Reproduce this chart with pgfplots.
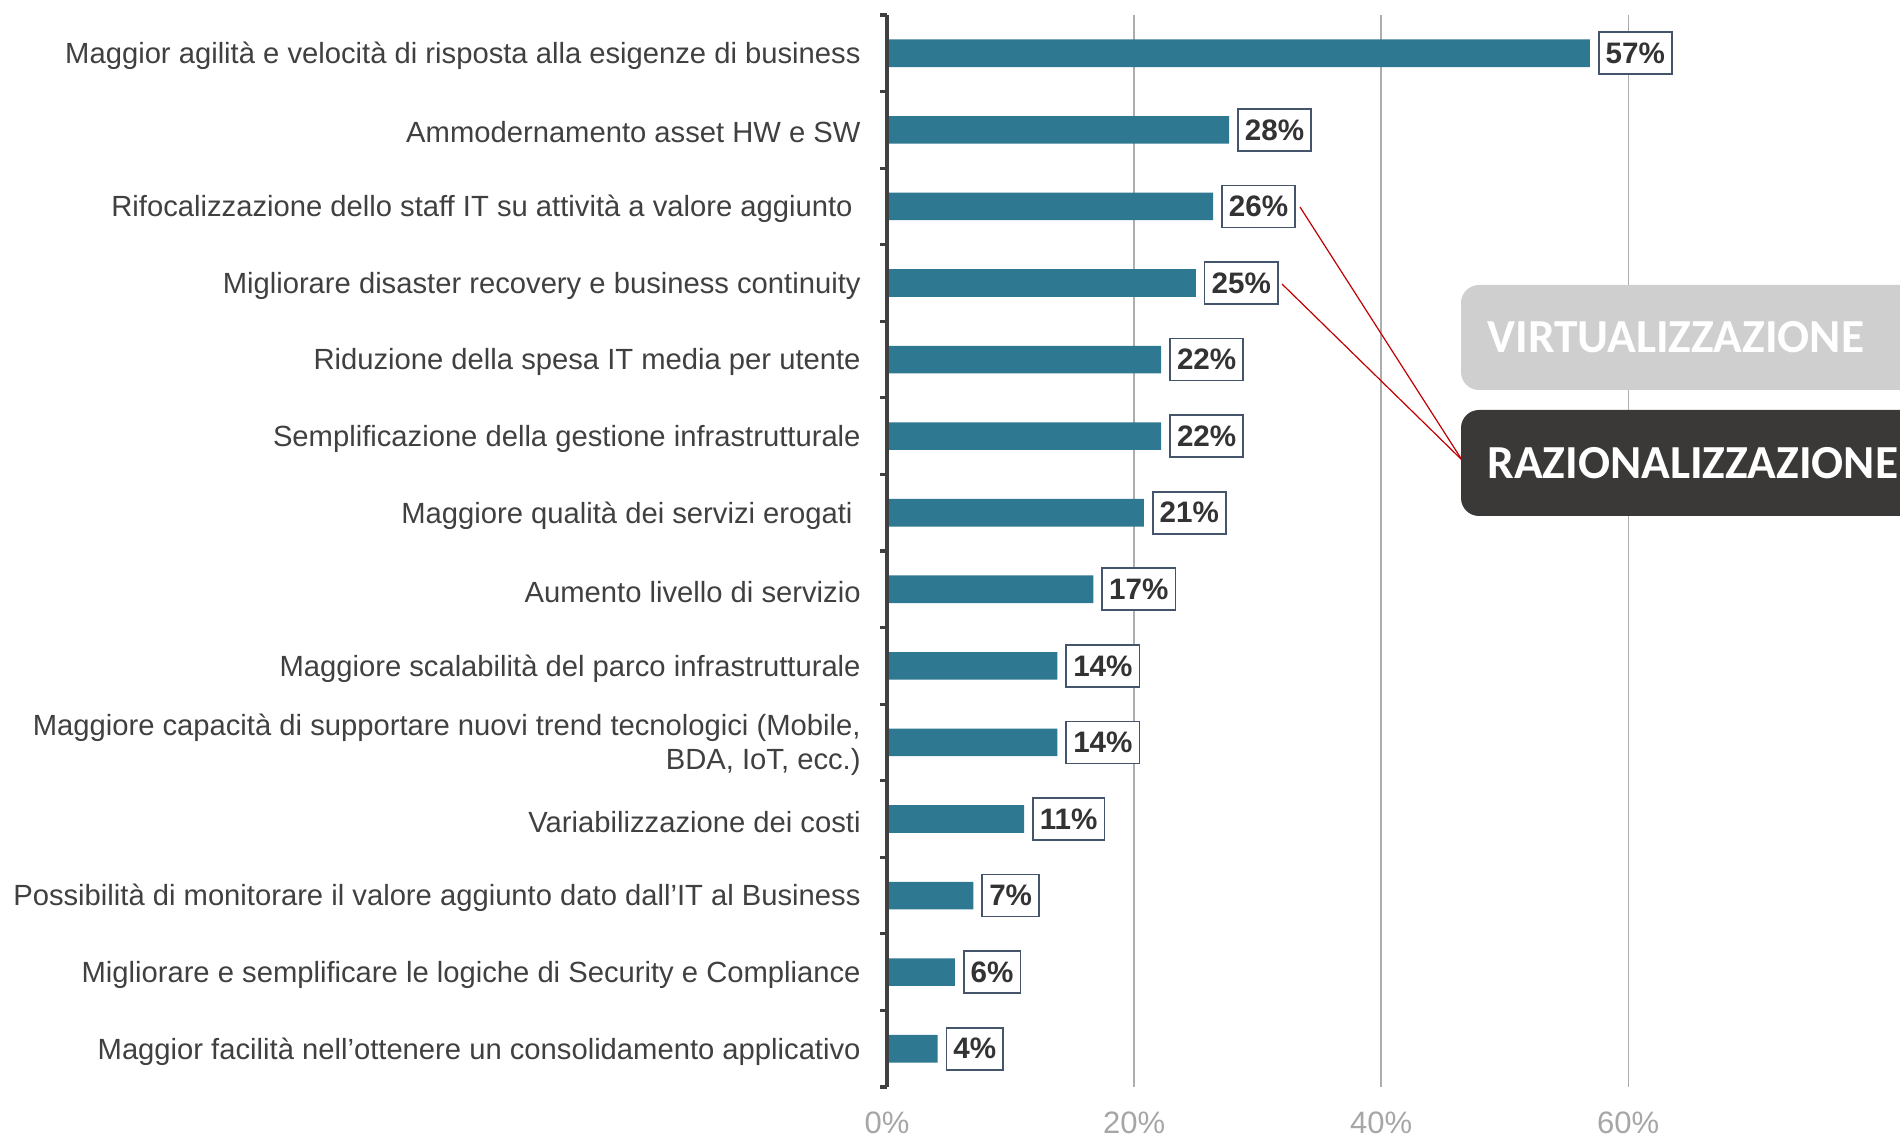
\documentclass[border=0pt]{standalone}
\usepackage{fontspec}
\setmainfont{Liberation Sans}
\newfontfamily\calib{Carlito}
\usepackage{pgfplots}
\pgfplotsset{compat=1.18}
\definecolor{barteal}{HTML}{2E7891}
\definecolor{axisgray}{HTML}{404040}
\definecolor{gridgray}{HTML}{ADADAD}
\definecolor{ticklab}{HTML}{A6A6A6}
\definecolor{boxedge}{HTML}{44546A}
\definecolor{boxtext}{HTML}{333333}
\definecolor{virtgray}{HTML}{D0CFD0}
\definecolor{razdark}{HTML}{3A3937}
\definecolor{linkred}{HTML}{C00000}

\pgfplotstableread{
i v lab
0 56.9 57
1 27.7 28
2 26.4 26
3 25.0 25
4 22.2 22
5 22.2 22
6 20.8 21
7 16.7 17
8 13.8 14
9 13.8 14
10 11.1 11
11 7.0 7
12 5.5 6
13 4.1 4
}\drivers

\begin{document}
\begin{tikzpicture}
\begin{axis}[
    at={(0,0)}, anchor=south west,
    scale only axis,
    width=506.5pt, height=536pt,
    xbar, bar width=13.8pt,
    xmin=0, xmax=82,
    ymin=-0.5, ymax=13.5,
    y dir=reverse,
    clip=false,
    axis line style={draw=none},
    xtick={0,20,40,60},
    xticklabels={0\%,20\%,40\%,60\%},
    xtick pos=bottom,
    xmajorgrids,
    major grid style={gridgray, line width=0.7pt},
    xticklabel style={font=\fontsize{15.5}{18}\selectfont, text=ticklab, yshift=-9pt},
    ytick={0,...,13},
    ytick pos=left,
    minor ytick={-0.5,0.5,...,13.5},
    major tick length=0pt,
    minor tick length=3.5pt,
    tick align=outside,
    minor tick style={axisgray, line width=1.6pt},
    yticklabels={
      Maggior agilità e velocità di risposta alla esigenze di business,
      Ammodernamento asset HW e SW,
      Rifocalizzazione dello staff IT su attività a valore aggiunto\kern4pt,
      Migliorare disaster recovery e business continuity,
      Riduzione della spesa IT media per utente,
      Semplificazione della gestione infrastrutturale,
      Maggiore qualità dei servizi erogati\kern4pt,
      Aumento livello di servizio,
      Maggiore scalabilità del parco infrastrutturale,
      {Maggiore capacità di supportare nuovi trend tecnologici (Mobile,\\BDA, IoT, ecc.)},
      Variabilizzazione dei costi,
      Possibilità di monitorare il valore aggiunto dato dall’IT al Business,
      Migliorare e semplificare le logiche di Security e Compliance,
      Maggior facilità nell’ottenere un consolidamento applicativo
    },
    yticklabel style={font=\fontsize{14.6}{17}\selectfont, text=axisgray,
      align=right, inner sep=0pt, xshift=-13pt, yshift=-1.3pt},
    point meta=explicit symbolic,
    nodes near coords={\pgfplotspointmeta\%},
    every node near coord/.append style={
      anchor=west, xshift=4pt, draw=boxedge, line width=0.8pt, fill=white,
      text=boxtext, font=\bfseries\fontsize{14.8}{17}\selectfont,
      inner xsep=3.5pt, inner ysep=0pt, minimum height=21pt},
]
\addplot[fill=barteal, draw=none] table[x=v, y=i, meta=lab] {\drivers};
\draw[axisgray, line width=1.8pt] (axis cs:0,-0.5) -- (axis cs:0,13.5);
\end{axis}

% link lines to the callout
\draw[linkred, line width=0.6pt] (206.5pt,440pt) -- (287.5pt,313.5pt);
\draw[linkred, line width=0.6pt] (197.5pt,401.5pt) -- (287.5pt,313.5pt);

% callout boxes
\fill[virtgray, rounded corners=9pt] (287pt,348.5pt) rectangle (540pt,401pt);
\node[anchor=west, text=white, font=\calib\bfseries\fontsize{23.7}{26}\selectfont, inner sep=0pt]
  at (300pt,374.75pt) {VIRTUALIZZAZIONE};
\fill[razdark, rounded corners=9pt] (287pt,285.5pt) rectangle (540pt,338.5pt);
\node[anchor=west, text=white, font=\calib\bfseries\fontsize{23.7}{26}\selectfont, inner sep=0pt]
  at (300pt,312pt) {RAZIONALIZZAZIONE};

\pgfresetboundingbox
\useasboundingbox (-443.5pt,-26.5pt) rectangle (506.5pt,543.5pt);
\end{tikzpicture}
\end{document}
